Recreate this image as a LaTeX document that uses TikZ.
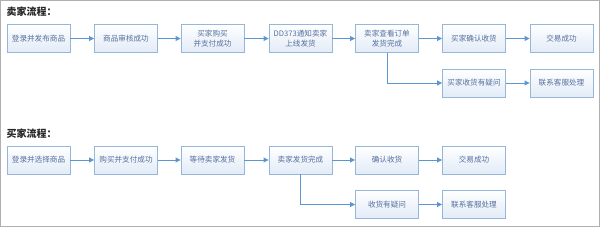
\documentclass[tikz,border=0pt]{standalone}
\usepackage{fontspec}
\setmainfont{Noto Sans CJK SC}
\usetikzlibrary{arrows.meta}
\definecolor{boxline}{RGB}{150,182,218}
\definecolor{boxtext}{RGB}{84,112,158}
\definecolor{boxfill}{RGB}{226,235,247}
\definecolor{flowcol}{RGB}{92,150,208}
\definecolor{framecol}{RGB}{175,175,175}

\begin{document}
\begin{tikzpicture}[x=1pt,y=-1pt,>={Triangle[length=5pt,width=5pt]},
  stepbox/.style={draw=boxline,line width=0.9pt,top color=white,bottom color=boxfill,
    minimum width=63pt,minimum height=28pt,inner sep=1pt,align=center,
    text=boxtext,font=\fontsize{7.6}{9.5}\selectfont},
  flow/.style={->,flowcol,line width=0.9pt},
  heading/.style={anchor=west,font=\fontsize{10}{12}\selectfont\bfseries,text=black!85}]
  \useasboundingbox (0,0) rectangle (600,227);
  \draw[framecol,line width=1pt] (0.5,0.5) rectangle (599,226);
  % seller
  \node[heading] (st) at (3,12) {卖家流程：};
  \node[stepbox] (s1) at (38.5,38.5) {登录并发布商品};
  \node[stepbox] (s2) at (126,38.5) {商品审核成功};
  \node[stepbox] (s3) at (212.5,38.5) {买家购买\\并支付成功};
  \node[stepbox] (s4) at (300.5,38.5) {DD373通知卖家\\上线发货};
  \node[stepbox] (s5) at (387,38.5) {卖家查看订单\\发货完成};
  \node[stepbox] (s6) at (474,38.5) {买家确认收货};
  \node[stepbox] (s7) at (561.5,38.5) {交易成功};
  \node[stepbox] (q1) at (474,83) {买家收货有疑问};
  \node[stepbox] (q2) at (561.5,83) {联系客服处理};
  \draw[flow] (s1)--(s2);
  \draw[flow] (s2)--(s3);
  \draw[flow] (s3)--(s4);
  \draw[flow] (s4)--(s5);
  \draw[flow] (s5)--(s6);
  \draw[flow] (s6)--(s7);
  \draw[flow] (s5.south) |- (q1.west);
  \draw[flow] (q1)--(q2);
  % buyer
  \node[heading] (bt) at (3,134) {买家流程：};
  \node[stepbox] (b1) at (38.5,160) {登录并选择商品};
  \node[stepbox] (b2) at (126,160) {购买并支付成功};
  \node[stepbox] (b3) at (212.5,160) {等待卖家发货};
  \node[stepbox] (b4) at (300.5,160) {卖家发货完成};
  \node[stepbox] (b5) at (387,160) {确认收货};
  \node[stepbox] (b6) at (474,160) {交易成功};
  \node[stepbox] (r1) at (387,204.5) {收货有疑问};
  \node[stepbox] (r2) at (474,204.5) {联系客服处理};
  \draw[flow] (b1)--(b2);
  \draw[flow] (b2)--(b3);
  \draw[flow] (b3)--(b4);
  \draw[flow] (b4)--(b5);
  \draw[flow] (b5)--(b6);
  \draw[flow] (b4.south) |- (r1.west);
  \draw[flow] (r1)--(r2);
\end{tikzpicture}
\end{document}
